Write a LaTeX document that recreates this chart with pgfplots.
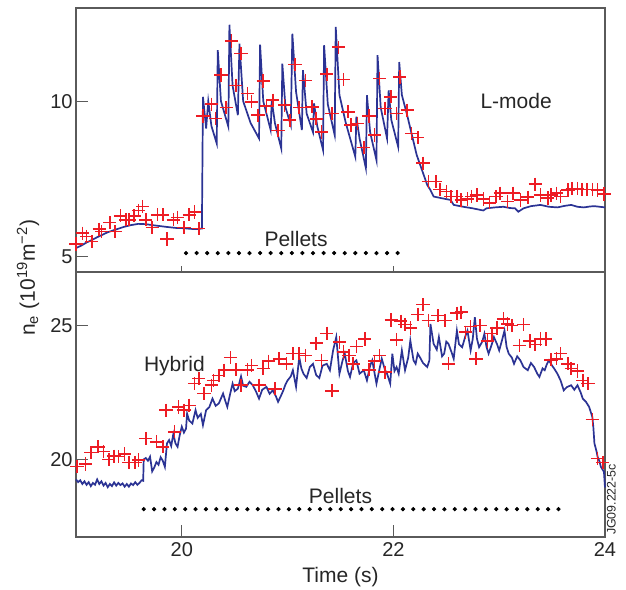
\documentclass[border=0pt]{standalone}
\usepackage{fontspec}
\setmainfont{Liberation Sans}
\usepackage{pgfplots}
\pgfplotsset{compat=1.18}

\definecolor{lineblue}{RGB}{43,51,148}
\definecolor{crossred}{RGB}{237,28,36}
\definecolor{framegray}{RGB}{90,90,90}

\tikzset{tag/.style={font=\fontsize{10.5}{12}\selectfont, text=black!85}}

\pgfplotsset{
  panel/.style={
    scale only axis,
    width=264.5pt,
    xmin=19, xmax=24,
    clip=false,
    axis line style={framegray, line width=0.6pt},
    tick style={framegray, line width=0.6pt},
    tick align=inside,
    xtick pos=bottom, ytick pos=left,
    major tick length=6pt,
    /pgf/number format/assume math mode=true,
    ticklabel style={font=\fontsize{10}{12}\selectfont, text=black!85},
    xticklabel style={inner ysep=2.5pt},
    yticklabel style={inner xsep=1.5pt},
  },
  ne/.style={lineblue, line width=0.85pt, no markers},
  crosses/.style={only marks, mark=+, mark size=3.3pt, crossred, mark options={line width=0.8pt}},
  pellets/.style={only marks, mark=*, mark size=0.85pt, black},
}

\begin{document}
\begin{tikzpicture}
\useasboundingbox (0,0) rectangle (313pt,294.5pt);

% ---------------- lower panel: hybrid ----------------
\begin{axis}[panel, name=bot,
  at={(38pt,26pt)}, anchor=south west,
  height=132.5pt,
  ymin=17.1, ymax=27,
  xtick={20,22,24}, ytick={20,25},
  xlabel={Time (s)},
  xlabel style={at={(axis description cs:0.5,0)}, anchor=base, yshift=-22.5pt, tag},
  ylabel={n\textsubscript{e} (10\textsuperscript{19}m\textsuperscript{−2})},
  ylabel style={at={(axis description cs:-0.0907,0.979)}, anchor=center, tag},
]
\addplot[ne] coordinates {
(19.00,19.25) (19.02,19.15) (19.04,19.22) (19.06,19.08) (19.08,19.18) (19.10,19.05)
(19.12,19.15) (19.14,19.00) (19.16,19.12) (19.18,19.05) (19.20,19.25) (19.22,19.08)
(19.24,19.18) (19.26,19.02) (19.28,19.12) (19.30,18.96) (19.32,19.08) (19.34,19.00)
(19.36,19.14) (19.38,19.02) (19.40,19.12) (19.42,19.04) (19.44,19.10) (19.46,18.98)
(19.48,19.08) (19.50,18.98) (19.52,19.10) (19.54,19.04) (19.56,19.15) (19.58,19.05)
(19.60,19.12) (19.62,19.22) (19.635,19.20) (19.64,20.00) (19.66,20.05) (19.68,19.95)
(19.70,20.10) (19.72,19.55) (19.74,19.70) (19.76,19.90) (19.78,19.80) (19.80,20.08)
(19.82,19.95) (19.84,19.72) (19.86,20.60) (19.88,20.72) (19.90,20.50) (19.92,20.95)
(19.94,20.60) (19.96,20.47) (19.98,20.90) (20.00,21.22) (20.02,21.00) (20.04,21.15)
(20.05,21.71) (20.07,21.45) (20.10,21.34) (20.13,21.84) (20.15,21.55) (20.18,21.70)
(20.20,21.28) (20.23,21.84) (20.26,21.95) (20.29,22.27) (20.32,22.00) (20.35,22.09)
(20.39,22.46) (20.41,22.20) (20.43,21.96) (20.46,22.50) (20.48,22.83) (20.50,22.55)
(20.53,22.64) (20.56,23.10) (20.58,22.75) (20.61,22.71) (20.64,22.90) (20.67,22.77)
(20.70,22.55) (20.73,22.27) (20.76,22.60) (20.80,22.71) (20.83,22.45) (20.86,22.58)
(20.89,22.35) (20.91,22.15) (20.94,22.40) (20.96,22.58) (20.98,22.80) (21.00,22.95)
(21.03,23.10) (21.05,23.33) (21.08,22.71) (21.11,23.82) (21.13,23.40) (21.15,23.20)
(21.18,23.04) (21.21,23.45) (21.24,23.57) (21.27,23.15) (21.30,23.04) (21.33,23.50)
(21.37,23.57) (21.40,23.33) (21.43,24.07) (21.46,24.57) (21.49,23.20) (21.52,23.70)
(21.54,23.95) (21.57,23.30) (21.59,23.08) (21.62,23.60) (21.65,23.70) (21.68,23.20)
(21.72,23.33) (21.75,22.95) (21.78,23.50) (21.80,23.70) (21.84,22.83) (21.87,23.40)
(21.89,23.76) (21.92,23.35) (21.94,23.20) (21.97,22.83) (21.99,23.95) (22.01,23.30)
(22.03,23.45) (22.05,23.20) (22.08,24.07) (22.11,23.33) (22.14,23.80) (22.16,24.44)
(22.19,23.70) (22.21,23.57) (22.23,23.95) (22.25,23.82) (22.28,23.60) (22.32,23.45)
(22.34,23.70) (22.35,25.06) (22.38,24.32) (22.41,24.10) (22.43,24.57) (22.46,23.85)
(22.48,23.95) (22.50,24.40) (22.52,24.32) (22.55,24.00) (22.57,23.76) (22.60,24.81)
(22.62,24.30) (22.65,24.19) (22.68,24.60) (22.70,24.81) (22.73,24.07) (22.75,24.50)
(22.77,25.31) (22.79,24.50) (22.81,24.19) (22.84,24.40) (22.86,24.69) (22.88,24.20)
(22.90,23.95) (22.93,24.30) (22.95,24.57) (22.98,24.30) (23.00,24.07) (23.03,24.50)
(23.05,24.81) (23.07,24.20) (23.09,23.95) (23.12,23.80) (23.14,23.57) (23.17,23.85)
(23.20,23.70) (23.23,23.45) (23.27,23.33) (23.30,23.60) (23.33,23.45) (23.36,23.20)
(23.38,23.08) (23.41,23.40) (23.43,23.33) (23.45,23.55) (23.47,23.70) (23.50,23.50)
(23.52,23.39) (23.55,23.20) (23.58,22.95) (23.61,22.58) (23.64,22.70) (23.68,22.77)
(23.71,22.60) (23.74,22.77) (23.77,22.50) (23.79,22.27) (23.82,22.15) (23.85,21.96)
(23.88,21.59) (23.89,21.20) (23.90,20.60) (23.92,20.30) (23.93,20.10) (23.95,19.90)
(23.96,19.73) (23.98,19.60) (23.99,19.54) (24.00,18.95)
};
\addplot[crosses] coordinates {
(19.01,19.73) (19.09,19.83) (19.14,20.25) (19.21,20.47) (19.26,20.29) (19.31,20.00)
(19.36,20.12) (19.40,20.10) (19.46,20.20) (19.50,19.88) (19.56,19.88) (19.59,19.98)
(19.66,20.78) (19.76,20.66) (19.82,20.47) (19.85,21.84) (19.93,21.03) (19.97,21.96)
(20.02,21.84) (20.07,22.02) (20.12,22.83) (20.16,23.02) (20.21,22.46) (20.28,22.77)
(20.30,22.95) (20.35,23.14) (20.40,23.33) (20.46,23.80) (20.51,23.35) (20.56,22.77)
(20.62,23.35) (20.66,23.51) (20.73,22.77) (20.77,23.39) (20.82,23.67) (20.88,22.64)
(20.92,23.76) (20.99,23.57) (21.05,23.95) (21.11,23.95) (21.17,23.88) (21.27,24.34)
(21.32,23.70) (21.37,24.71) (21.42,22.56) (21.49,24.38) (21.53,24.01) (21.58,23.88)
(21.62,23.57) (21.65,24.22) (21.73,24.50) (21.77,23.35) (21.82,23.67) (21.87,23.88)
(21.92,23.26) (21.98,25.21) (22.03,24.47) (22.07,25.16) (22.11,25.04) (22.16,24.91)
(22.23,25.41) (22.28,25.78) (22.33,25.19) (22.42,25.37) (22.49,25.19) (22.52,23.57)
(22.60,25.46) (22.64,25.50) (22.68,24.75) (22.73,24.96) (22.78,23.76) (22.82,25.00)
(22.89,24.42) (22.93,24.71) (22.98,24.91) (23.04,25.25) (23.08,25.06) (23.12,25.00)
(23.19,24.26) (23.23,25.04) (23.29,24.42) (23.34,24.29) (23.39,24.50) (23.44,24.50)
(23.49,23.72) (23.54,23.76) (23.58,23.95) (23.65,23.57) (23.68,23.39) (23.74,23.30)
(23.79,22.95) (23.84,22.83) (23.88,21.49) (23.93,20.04) (23.98,19.88)
};
\addplot[pellets] coordinates {
(19.640,18.14) (19.738,18.14) (19.836,18.14) (19.934,18.14) (20.032,18.14) (20.130,18.14)
(20.228,18.14) (20.326,18.14) (20.424,18.14) (20.522,18.14) (20.620,18.14) (20.718,18.14)
(20.816,18.14) (20.914,18.14) (21.012,18.14) (21.110,18.14) (21.208,18.14) (21.306,18.14)
(21.404,18.14) (21.502,18.14) (21.600,18.14) (21.698,18.14) (21.796,18.14) (21.894,18.14)
(21.992,18.14) (22.090,18.14) (22.188,18.14) (22.286,18.14) (22.384,18.14) (22.482,18.14)
(22.580,18.14) (22.678,18.14) (22.776,18.14) (22.874,18.14) (22.972,18.14) (23.070,18.14)
(23.168,18.14) (23.266,18.14) (23.364,18.14) (23.462,18.14) (23.560,18.14)
};
\node[tag, anchor=base] at (axis cs:19.93,23.30) {Hybrid};
\node[tag, anchor=base] at (axis cs:21.50,18.36) {Pellets};
\node[rotate=90, anchor=north west, inner sep=0.8pt, text=black!85,
      font=\fontsize{6.2}{7}\selectfont] at (rel axis cs:1,0) {JG09.222-5c};
\end{axis}

% ---------------- upper panel: L-mode ----------------
\begin{axis}[panel, name=top,
  at={(38pt,158.5pt)}, anchor=south west,
  height=132pt,
  ymin=4.5, ymax=13,
  xtick={20,22}, xticklabels={},
  xtick style={/pgfplots/major tick length=3pt},
  ytick={5,10},
]
\addplot[ne] coordinates {
(19.00,5.27) (19.05,5.35) (19.10,5.45) (19.15,5.53) (19.20,5.62) (19.25,5.70)
(19.30,5.78) (19.37,5.86) (19.45,5.95) (19.52,6.01) (19.59,6.05) (19.66,6.04)
(19.72,6.01) (19.79,5.98) (19.86,5.95) (19.94,5.92) (20.02,5.91) (20.08,5.89)
(20.13,5.88) (20.19,5.90)
(20.20,10.14) (20.23,9.12) (20.25,10.00) (20.28,9.20) (20.33,8.64)
(20.34,11.64) (20.37,10.00) (20.44,9.18)
(20.45,12.46) (20.48,10.50) (20.53,9.55)
(20.545,11.85) (20.58,10.00) (20.65,9.30) (20.73,8.80)
(20.74,11.82) (20.77,10.00) (20.84,9.07)
(20.85,10.03) (20.88,9.30) (20.94,8.48)
(20.95,11.21) (20.98,9.80) (21.03,9.23)
(21.045,12.17) (21.08,10.30) (21.135,9.07)
(21.145,11.00) (21.18,9.60) (21.24,9.00)
(21.25,9.93) (21.28,9.20) (21.335,8.43)
(21.345,11.80) (21.38,9.90) (21.445,8.91)
(21.455,12.39) (21.49,10.20) (21.55,9.30) (21.64,8.21)
(21.65,9.50) (21.68,8.80) (21.74,7.84)
(21.75,10.19) (21.78,9.00) (21.84,8.10)
(21.85,11.48) (21.88,9.80) (21.94,8.80)
(21.955,10.35) (21.98,9.40) (22.045,8.53)
(22.055,11.26) (22.08,10.20) (22.13,9.55) (22.22,8.27) (22.32,7.30) (22.35,7.14)
(22.38,6.93) (22.45,6.88) (22.54,6.82) (22.57,6.66) (22.66,6.60) (22.75,6.55)
(22.85,6.48) (22.88,6.55) (22.96,6.58) (23.04,6.60) (23.10,6.56) (23.15,6.55)
(23.18,6.44) (23.23,6.55) (23.30,6.62) (23.39,6.66) (23.47,6.60) (23.55,6.58)
(23.62,6.63) (23.68,6.66) (23.74,6.60) (23.80,6.58) (23.86,6.61) (23.90,6.62)
(23.95,6.60) (24.00,6.58)
};
\addplot[crosses] coordinates {
(19.00,5.40) (19.06,5.75) (19.10,5.64) (19.15,5.48) (19.22,5.88) (19.24,5.80)
(19.32,6.09) (19.37,5.80) (19.42,6.31) (19.47,6.18) (19.50,6.18) (19.55,6.31)
(19.59,6.48) (19.63,6.61) (19.66,6.18) (19.72,5.93) (19.77,6.34) (19.82,6.34)
(19.86,5.56) (19.92,6.18) (19.96,6.26) (20.02,5.93) (20.07,6.34) (20.12,6.43)
(20.16,5.90)
(20.20,9.52) (20.28,9.90) (20.32,9.44) (20.37,10.84) (20.42,9.80) (20.47,11.94)
(20.51,10.51) (20.56,11.53) (20.62,10.25) (20.66,9.98) (20.72,9.55) (20.77,10.65)
(20.80,9.84) (20.86,10.03) (20.91,9.05) (20.97,9.87) (21.02,9.39) (21.07,11.18)
(21.11,9.80) (21.17,10.67) (21.23,9.82) (21.27,9.43) (21.32,9.01) (21.37,10.87)
(21.42,9.60) (21.48,11.74) (21.53,10.70) (21.57,9.66) (21.60,9.23) (21.66,9.28)
(21.72,8.51) (21.77,9.52) (21.82,8.91) (21.87,10.73) (21.92,9.77) (21.975,10.14)
(22.03,9.60) (22.06,10.78) (22.13,9.71) (22.17,8.96) (22.23,8.83) (22.28,8.00)
(22.33,7.41) (22.40,7.41) (22.44,7.16) (22.50,7.09) (22.545,6.93) (22.60,6.93)
(22.64,6.82) (22.70,6.85) (22.74,6.93) (22.79,6.98) (22.85,6.85) (22.91,6.73)
(22.97,6.93) (23.01,7.04) (23.08,6.77) (23.13,7.04) (23.20,6.82) (23.27,6.91)
(23.34,7.33) (23.39,6.98) (23.46,6.88) (23.49,6.98) (23.54,7.04) (23.58,6.93)
(23.65,7.14) (23.69,7.19) (23.74,7.19) (23.78,7.16) (23.83,7.16) (23.88,7.16)
(23.93,7.14) (23.99,7.01)
};
\addplot[pellets] coordinates {
(20.04,5.11) (20.14,5.11) (20.24,5.11) (20.34,5.11) (20.44,5.11) (20.54,5.11)
(20.64,5.11) (20.74,5.11) (20.84,5.11) (20.94,5.11) (21.04,5.11) (21.14,5.11)
(21.24,5.11) (21.34,5.11) (21.44,5.11) (21.54,5.11) (21.64,5.11) (21.74,5.11)
(21.84,5.11) (21.94,5.11) (22.04,5.11)
};
\node[tag, anchor=base] at (axis cs:21.08,5.32) {Pellets};
\node[tag, anchor=base] at (axis cs:23.16,9.76) {L-mode};
\end{axis}
\end{tikzpicture}
\end{document}
